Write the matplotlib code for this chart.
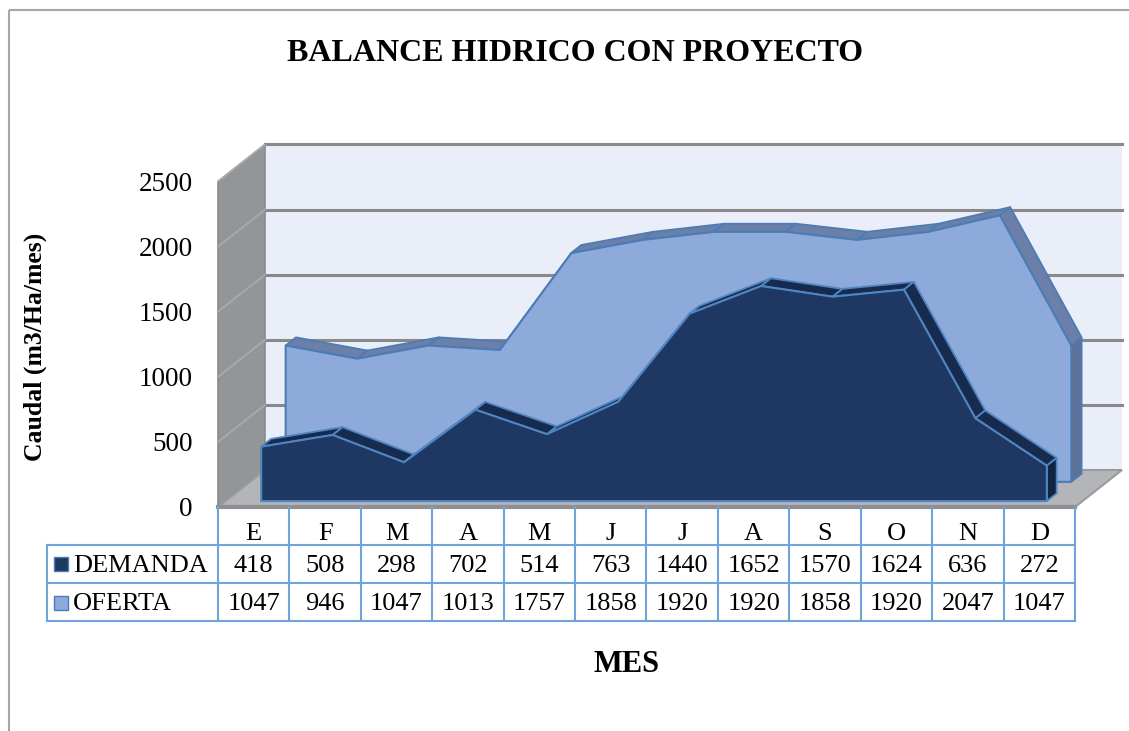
import numpy as np
import matplotlib
matplotlib.use("Agg")
import matplotlib.pyplot as plt
from matplotlib.patches import Polygon, Rectangle
from matplotlib.lines import Line2D
from matplotlib.transforms import Affine2D, blended_transform_factory

# ---- data -------------------------------------------------------------
meses = ["E", "F", "M", "A", "M", "J", "J", "A", "S", "O", "N", "D"]
demanda = [418, 508, 298, 702, 514, 763, 1440, 1652, 1570, 1624, 636, 272]
oferta = [1047, 946, 1047, 1013, 1757, 1858, 1920, 1920, 1858, 1920, 2047, 1047]
series_names = ["DEMANDA", "OFERTA"]
y_ticks = [0, 500, 1000, 1500, 2000, 2500]

titulo = "BALANCE HIDRICO CON PROYECTO"
eje_y = "Caudal (m3/Ha/mes)"
eje_x = "MES"

# ---- style ------------------------------------------------------------
plt.rcParams["font.family"] = ["Liberation Serif", "DejaVu Serif"]

W, H = 1129, 731
fig = plt.figure(figsize=(W / 100, H / 100), dpi=100)

# front plane of the 3-D box, in pixels (top-origin)
FX0, FX1 = 218, 1075
FY0, FY1 = 507, 181.5
ax = fig.add_axes([FX0 / W, (H - FY0) / H, (FX1 - FX0) / W, (FY0 - FY1) / H])
ncat = len(meses)
ax.set_xlim(0, ncat)
ax.set_ylim(0, y_ticks[-1])
ax.patch.set_visible(False)
for s in ax.spines.values():
    s.set_visible(False)
ax.set_xticks([])
ax.set_yticks(y_ticks)
ax.tick_params(axis="y", length=0, pad=18, labelsize=19.5)

# oblique depth: full depth of the box shifts right/up by these pixels
DEPTH_PX_X, DEPTH_PX_Y = 47, 37
px_per_cat = (FX1 - FX0) / ncat
px_per_unit = (FY0 - FY1) / y_ticks[-1]
DX = DEPTH_PX_X / px_per_cat
DY = DEPTH_PX_Y / px_per_unit


def proj(x, v, z):
    return (x + z * DX, v + z * DY)


# ---- walls and floor --------------------------------------------------
top = y_ticks[-1]
back = Polygon([proj(0, 0, 1), proj(ncat, 0, 1), proj(ncat, top, 1), proj(0, top, 1)],
               closed=True, fc="#E9EEF8", ec="none", clip_on=False, zorder=1)
ax.add_patch(back)
side = Polygon([proj(0, 0, 0), proj(0, 0, 1), proj(0, top, 1), proj(0, top, 0)],
               closed=True, fc="#939598", ec="#8A8B8D", lw=1.2, clip_on=False, zorder=1.2)
ax.add_patch(side)
for v in y_ticks[1:]:
    xa, ya = proj(0, v, 1)
    xb, yb = proj(ncat, v, 1)
    ax.add_line(Line2D([xa, xb], [ya, yb], color="#898989", lw=2.2, clip_on=False, zorder=1.5))
    xs, ys = proj(0, v, 0)
    ax.add_line(Line2D([xs, xa], [ys, ya], color="#A9AAAC", lw=1.3, clip_on=False, zorder=1.5))
floor = Polygon([proj(0, 0, 0), proj(ncat, 0, 0), proj(ncat, 0, 1), proj(0, 0, 1)],
                closed=True, fc="#B3B5B8", ec="#9A9B9D", lw=1.5, clip_on=False, zorder=2)
ax.add_patch(floor)
ax.add_line(Line2D([0, ncat], [0, 0], color="#8E8F91", lw=3, clip_on=False, zorder=2.1))

# ---- 3-D area series --------------------------------------------------
xc = np.arange(ncat) + 0.5


def area3d(vals, z0, z1, c_front, c_top, c_side, c_edge, zb):
    v = np.asarray(vals, dtype=float)
    for i in range(ncat - 1):
        pts = [proj(xc[i], v[i], z0), proj(xc[i + 1], v[i + 1], z0),
               proj(xc[i + 1], v[i + 1], z1), proj(xc[i], v[i], z1)]
        ax.add_patch(Polygon(pts, closed=True, fc=c_top, ec=c_edge, lw=1.3,
                             joinstyle="round", clip_on=False, zorder=zb))
    pts = [proj(xc[-1], 0, z0), proj(xc[-1], v[-1], z0),
           proj(xc[-1], v[-1], z1), proj(xc[-1], 0, z1)]
    ax.add_patch(Polygon(pts, closed=True, fc=c_side, ec=c_edge, lw=1.3,
                         clip_on=False, zorder=zb + 0.1))
    pts = [proj(xc[0], 0, z0)] + [proj(xc[i], v[i], z0) for i in range(ncat)] + [proj(xc[-1], 0, z0)]
    ax.add_patch(Polygon(pts, closed=True, fc=c_front, ec=c_edge, lw=1.5,
                         joinstyle="round", clip_on=False, zorder=zb + 0.2))


area3d(oferta, 0.68, 0.90, "#8EAADB", "#6B7FA8", "#5F7198", "#4A7DB6", 3)
area3d(demanda, 0.16, 0.37, "#1F3763", "#172B4F", "#132342", "#4F86C2", 4)

# ---- data table -------------------------------------------------------
pxT = Affine2D().scale(1, -1).translate(0, H)  # top-origin pixels
tbl = blended_transform_factory(ax.transData, pxT)
TC = "#6FA3DA"
ROW_TOP, ROW1, ROW2, ROW3 = FY0, 544.5, 583, 621
LEG_X = 47
x_right = ax.transData.transform((ncat, 0))[0]

for k in range(ncat + 1):
    ax.add_line(Line2D([k, k], [ROW_TOP, ROW3], transform=tbl, color=TC, lw=1.5,
                       clip_on=False, zorder=5))
for yy in (ROW1, ROW2, ROW3):
    fig.add_artist(Line2D([LEG_X, x_right], [yy, yy], transform=pxT, color=TC, lw=1.5))
fig.add_artist(Line2D([LEG_X, LEG_X], [ROW1, ROW3], transform=pxT, color=TC, lw=1.5))

FS = 19
for i, m in enumerate(meses):
    ax.text(xc[i], 539.5, m, transform=tbl, ha="center", va="baseline", fontsize=FS)
    ax.text(xc[i], 571.5, str(demanda[i]), transform=tbl, ha="center", va="baseline", fontsize=FS)
    ax.text(xc[i], 610.5, str(oferta[i]), transform=tbl, ha="center", va="baseline", fontsize=FS)

legend_rows = [(series_names[0], 571.5, "#1F3763"), (series_names[1], 610.5, "#8EAADB")]
for name, base, col in legend_rows:
    fig.add_artist(Rectangle((54, base - 15), 14, 14, transform=pxT, fc=col,
                             ec="#4A7DB6", lw=1.0))
    fig.text(73, base, name, transform=pxT, ha="left", va="baseline", fontsize=FS)

# ---- titles -----------------------------------------------------------
fig.text(575, 61, titulo, transform=pxT, ha="center", va="baseline",
         fontsize=23, fontweight="bold")
fig.text(35, 347, eje_y, transform=pxT, ha="center", va="center", rotation=90,
         fontsize=18.5, fontweight="bold")
fig.text(627, 665, eje_x, transform=pxT, ha="center", va="center",
         fontsize=22, fontweight="bold")

# chart area border
fig.add_artist(Rectangle((9, 10), 1400, 1000, transform=pxT, fc="none",
                         ec="#A6A6A6", lw=1.5))

fig.savefig("out.png", dpi=100)
